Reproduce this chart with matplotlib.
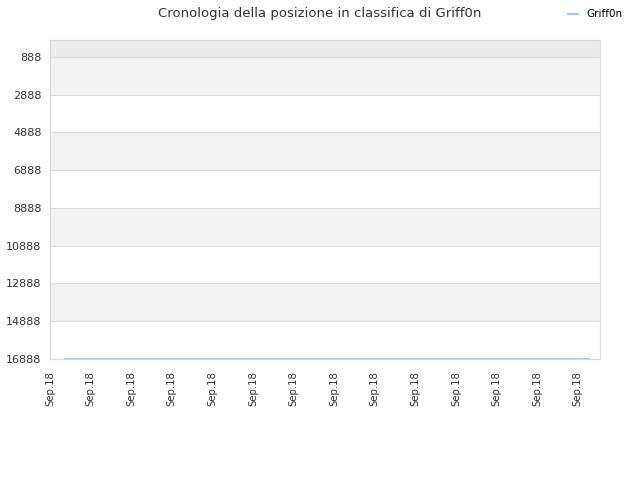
import matplotlib
matplotlib.use('Agg')
import matplotlib.pyplot as plt
import numpy as np

# data
player = 'Griff0n'
x_days = [0.37, 13.27]
ranks = [16888, 16888]
ytick_vals = [888, 2888, 4888, 6888, 8888, 10888, 12888, 14888, 16888]
xtick_labels = ['Sep.18'] * 14

fig = plt.figure(figsize=(6.4, 4.8), dpi=100)
ax = fig.add_axes([50/640, 121/480, 550/640, 319/480])

ymin, ymax = -12, 16888
ax.set_ylim(ymax, ymin)
ax.set_xlim(0, 13.55)

# alternating bands
ax.axhspan(ymin, 888, color='#ececec', zorder=0, lw=0)
for i in range(len(ytick_vals) - 1):
    c = '#f2f2f2' if i % 2 == 0 else 'white'
    ax.axhspan(ytick_vals[i], ytick_vals[i+1], color=c, zorder=0, lw=0)

ax.plot(x_days, ranks, color='#a3c9ea', lw=1.5, zorder=3, label=player)

ax.set_yticks(ytick_vals)
ax.set_yticklabels([str(v) for v in ytick_vals], fontsize=8, color='#333333')
ax.set_xticks(np.arange(len(xtick_labels)))
ax.set_xticklabels(xtick_labels, rotation=90, fontsize=7.3, color='#333333')
ax.tick_params(axis='y', length=0, pad=6)
ax.tick_params(axis='x', length=0, pad=9)
ax.grid(axis='y', color='#dddddd', lw=0.8)
ax.set_axisbelow(True)
for s in ax.spines.values():
    s.set_color('#d9d9d9')

fig.suptitle('Cronologia della posizione in classifica di Griff0n', x=0.5, y=0.985,
             fontsize=9.5, color='#333333')
fig.legend(loc='upper right', bbox_to_anchor=(0.988, 1.0), frameon=False, fontsize=7.5,
           handlelength=1.0)

fig.savefig('out.png', dpi=100)
